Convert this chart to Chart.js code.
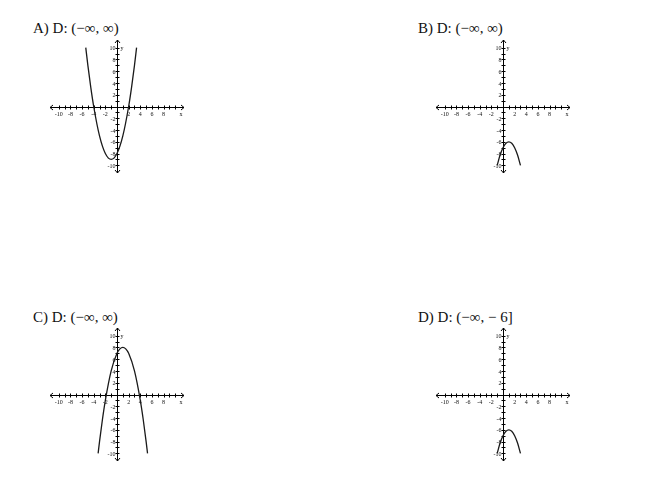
<!DOCTYPE html>
<html>
<head>
<meta charset="utf-8">
<script src="https://cdn.jsdelivr.net/npm/chart.js@4/dist/chart.umd.min.js"></script>
<style>
  html, body { margin: 0; padding: 0; background: #fff; }
  #page { position: relative; width: 653px; height: 480px; overflow: hidden; }
  .title {
    position: absolute;
    font-family: "Liberation Serif", "DejaVu Serif", serif;
    font-size: 15px;
    line-height: 15px;
    color: #111;
    white-space: pre;
  }
  canvas { position: absolute; }
</style>
</head>
<body>
<div id="page"></div>
<script>
// answer choices, one small graph each
var titles = ['A) D: (\u2212\u221e, \u221e)', 'B) D: (\u2212\u221e, \u221e)',
              'C) D: (\u2212\u221e, \u221e)', 'D) D: (\u2212\u221e, \u2212 6]'];

// every unit gets a tick mark, every second one a label
var tickValues = [-10, -9, -8, -7, -6, -5, -4, -3, -2, -1, 1, 2, 3, 4, 5, 6, 7, 8, 9, 10];
var tickLabels = ['-10', '', '-8', '', '-6', '', '-4', '', '-2', '', '', '2', '', '4', '', '6', '', '8', '', ''];

// curves
var curveAX = [-5.36, -5, -4.5, -4, -3, -2, -1, 0, 1, 2, 2.5, 3, 3.36];
var curveAY = [10, 7, 3.25, 0, -5, -8, -9, -8, -5, 0, 3.25, 7, 10];

var curveBX = [-1, -0.5, 0, 0.5, 1, 1.5, 2, 2.5, 3];
var curveBY = [-10, -8.25, -7, -6.25, -6, -6.25, -7, -8.25, -10];

var curveCX = [-3.24, -3, -2.5, -2, -1, 0, 0.5, 1, 1.5, 2, 3, 4, 4.5, 5, 5.24];
var curveCY = [-10, -8, -4.25, -1, 4, 7, 7.75, 8, 7.75, 7, 4, -1, -4.25, -8, -10];

var curveDX = curveBX;
var curveDY = curveBY;

var panels = [
  {title: titles[0], xs: curveAX, ys: curveAY, left: 40, top: 30, tLeft: 33, tTop: 21},
  {title: titles[1], xs: curveBX, ys: curveBY, left: 426, top: 30, tLeft: 418, tTop: 21},
  {title: titles[2], xs: curveCX, ys: curveCY, left: 40, top: 318, tLeft: 33, tTop: 310},
  {title: titles[3], xs: curveDX, ys: curveDY, left: 426, top: 318, tLeft: 418, tTop: 310}
];

var axesPlugin = {
  id: 'axes',
  beforeDatasetsDraw: (chart) => {
    var ctx = chart.ctx;
    var sx = chart.scales.x;
    var sy = chart.scales.y;
    var area = chart.chartArea;
    var x0 = Math.round(sx.getPixelForValue(0)) + 0.5;
    var y0 = Math.round(sy.getPixelForValue(0)) + 0.5;

    ctx.save();
    ctx.strokeStyle = '#000';
    ctx.lineWidth = 1;
    ctx.beginPath();
    ctx.moveTo(area.left, y0);
    ctx.lineTo(area.right, y0);
    ctx.moveTo(x0, area.top);
    ctx.lineTo(x0, area.bottom);

    // open arrow heads at the four ends
    ctx.moveTo(area.left + 3, y0 - 2.5);
    ctx.lineTo(area.left, y0);
    ctx.lineTo(area.left + 3, y0 + 2.5);
    ctx.moveTo(area.right - 3, y0 - 2.5);
    ctx.lineTo(area.right, y0);
    ctx.lineTo(area.right - 3, y0 + 2.5);
    ctx.moveTo(x0 - 2.5, area.top + 3);
    ctx.lineTo(x0, area.top);
    ctx.lineTo(x0 + 2.5, area.top + 3);
    ctx.moveTo(x0 - 2.5, area.bottom - 3);
    ctx.lineTo(x0, area.bottom);
    ctx.lineTo(x0 + 2.5, area.bottom - 3);

    tickValues.forEach((v) => {
      var px = Math.round(sx.getPixelForValue(v)) + 0.5;
      var py = Math.round(sy.getPixelForValue(v)) + 0.5;
      ctx.moveTo(px, y0 - 2);
      ctx.lineTo(px, y0 + 2);
      ctx.moveTo(x0 - 2, py);
      ctx.lineTo(x0 + 2, py);
    });
    ctx.stroke();

    ctx.fillStyle = '#111';
    ctx.font = '6px "Liberation Serif"';
    tickValues.forEach((v, i) => {
      var label = tickLabels[i];
      if (!label) {
        return;
      }
      ctx.textAlign = 'center';
      ctx.textBaseline = 'top';
      ctx.fillText(label, sx.getPixelForValue(v), y0 + 4);
    });
    tickValues.forEach((v, i) => {
      var label = v % 2 === 0 ? String(v) : '';
      if (!label) {
        return;
      }
      ctx.textAlign = 'right';
      ctx.textBaseline = 'middle';
      ctx.fillText(label, x0 - 2, sy.getPixelForValue(v) + 1);
    });

    ctx.textAlign = 'left';
    ctx.textBaseline = 'middle';
    ctx.fillText('y', x0 + 3, sy.getPixelForValue(10) + 1);
    ctx.textAlign = 'center';
    ctx.textBaseline = 'top';
    ctx.fillText('x', sx.getPixelForValue(11), y0 + 4);
    ctx.restore();
  }
};

function makePanel(p) {
  var page = document.getElementById('page');

  var title = document.createElement('div');
  title.className = 'title';
  title.style.left = p.tLeft + 'px';
  title.style.top = p.tTop + 'px';
  title.textContent = p.title;
  page.appendChild(title);

  var canvas = document.createElement('canvas');
  canvas.width = 154;
  canvas.height = 153;
  canvas.style.left = p.left + 'px';
  canvas.style.top = p.top + 'px';
  page.appendChild(canvas);

  var points = p.xs.map((x, i) => ({x: x, y: p.ys[i]}));

  new Chart(canvas, {
    type: 'scatter',
    data: {
      datasets: [{
        data: points,
        showLine: true,
        borderColor: '#1a1a1a',
        borderWidth: 1.3,
        pointRadius: 0,
        cubicInterpolationMode: 'monotone'
      }]
    },
    options: {
      responsive: false,
      animation: false,
      layout: {padding: 10},
      plugins: {
        legend: {display: false},
        tooltip: {enabled: false}
      },
      scales: {
        x: {type: 'linear', min: -11.5, max: 11.5, display: false},
        y: {type: 'linear', min: -11.3, max: 11.3, display: false}
      }
    },
    plugins: [axesPlugin]
  });
}

panels.forEach(makePanel);
</script>
</body>
</html>
